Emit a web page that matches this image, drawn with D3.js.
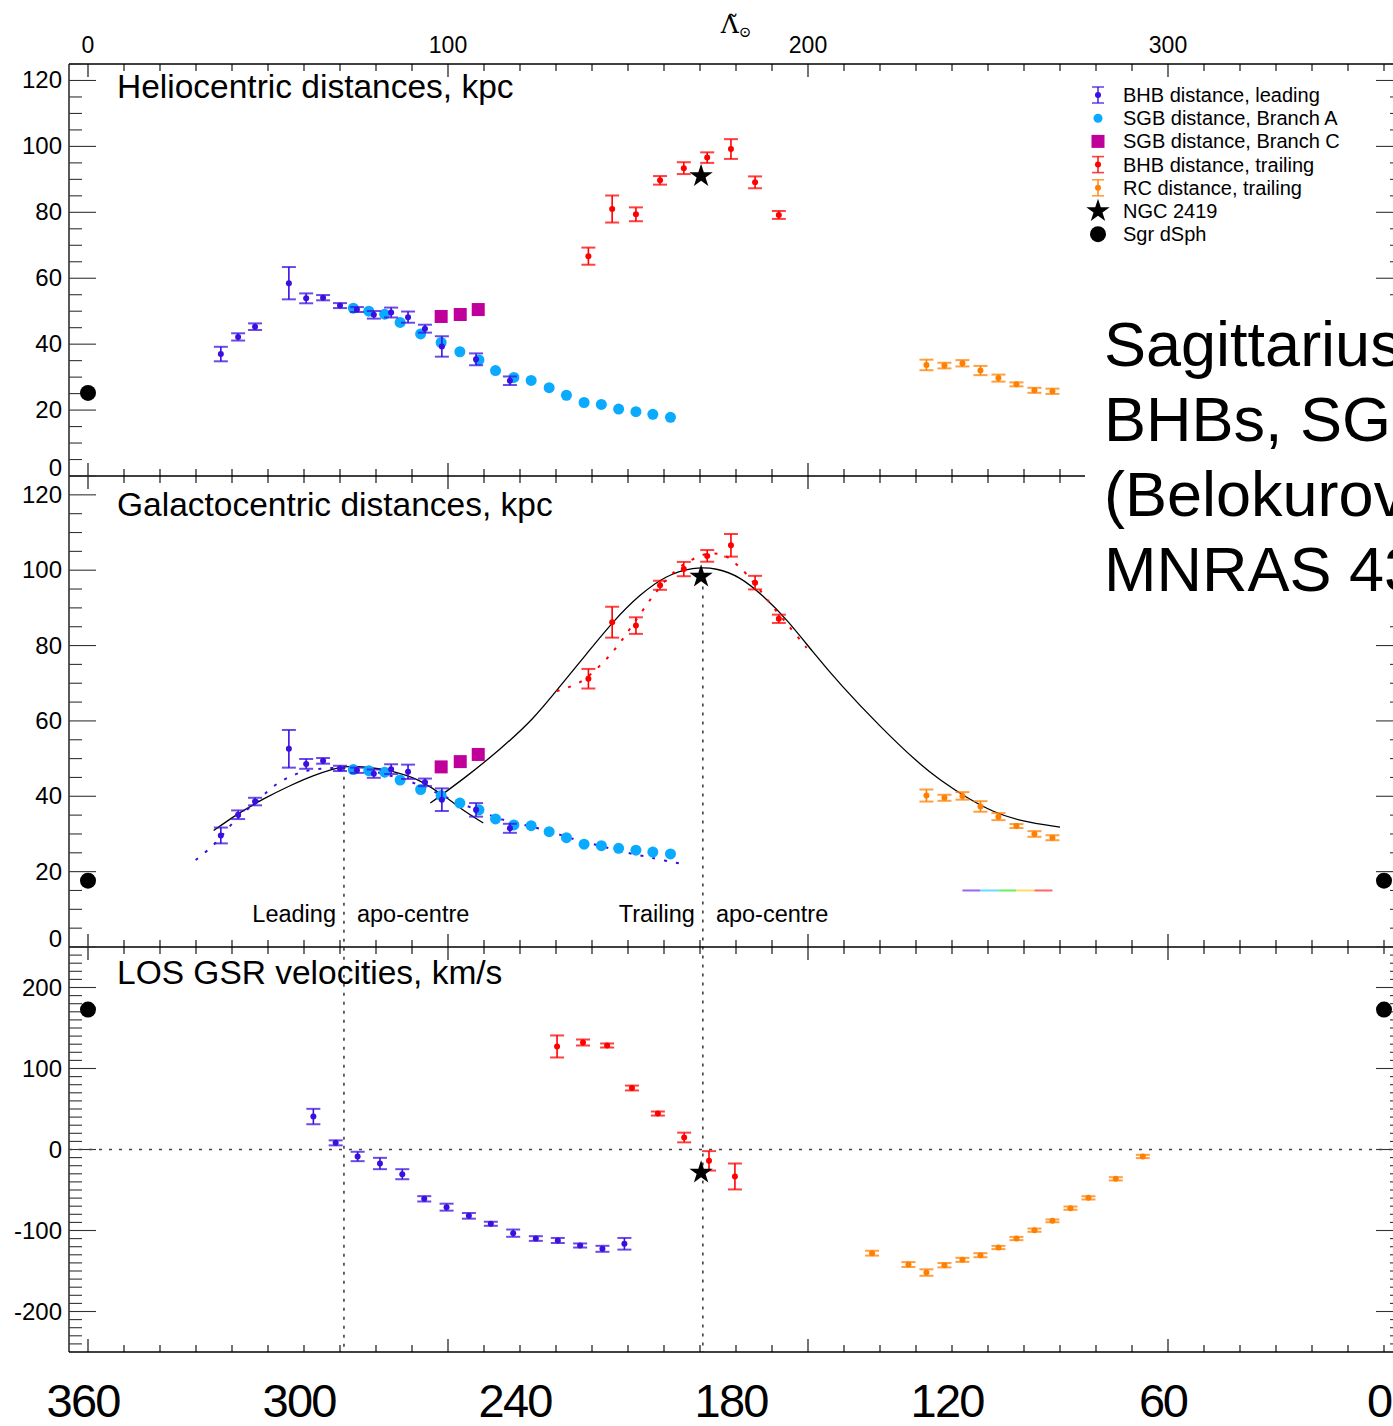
<!DOCTYPE html>
<html lang="en">
  <head>
    <meta charset="UTF-8" />
    <title>Sagittarius stream</title>
    <script src="https://cdn.jsdelivr.net/npm/d3@7"></script>
    <style>
      body { margin: 0; overflow: hidden; background: #fff; }
      svg { display: block; font-family: "Liberation Sans", Arial, sans-serif; }
    </style>
  </head>
  <body>
    <svg width="1393" height="1426"></svg>
    <script>
      // ---- data (longitude in deg) ----
      // BHB leading
      const bhbLeadLam = [36.9, 41.7, 46.4, 55.8, 60.6, 65.3, 70.0, 74.7, 79.4, 84.2, 88.9, 93.6, 98.3, 107.8, 117.2];
      const bhbLeadDh = [37.0, 42.2, 45.3, 58.5, 53.9, 54.1, 51.7, 50.5, 48.9, 49.6, 48.2, 44.7, 39.3, 35.4, 28.9];
      const bhbLeadDhErr = [2.2, 1.1, 1.0, 4.9, 1.5, 0.8, 0.75, 0.75, 1.15, 1.5, 1.7, 1.2, 3.1, 1.8, 1.3];
      const bhbLeadRg = [29.6, 35.1, 38.6, 52.6, 48.6, 49.4, 47.4, 46.9, 46.0, 47.2, 46.5, 43.7, 39.1, 36.4, 31.5];
      const bhbLeadRgErr = [2.1, 1.15, 1.0, 5.0, 1.3, 0.75, 0.7, 0.7, 1.1, 1.3, 1.9, 1.0, 3.0, 1.8, 1.2];
      const vLeadLam = [62.6, 68.8, 74.9, 81.1, 87.3, 93.4, 99.6, 105.8, 111.9, 118.1, 124.4, 130.5, 136.7, 142.9, 149.0];
      const vLead = [40.7, 8.2, -8.6, -17.3, -30.5, -60.9, -71.2, -81.9, -91.7, -103.3, -109.9, -112.3, -118.5, -122.6, -116.4];
      const vLeadErr = [9.5, 3.1, 5.8, 7.0, 6.2, 3.3, 4.3, 3.5, 2.5, 4.5, 2.9, 3.1, 2.5, 3.7, 7.2];

      // SGB branch A and C
      const sgbALam = [73.7, 78.0, 82.4, 86.7, 92.4, 98.1, 103.3, 108.6, 113.2, 118.3, 123.1, 128.1, 132.9, 137.8, 142.6, 147.4, 152.2, 156.9, 161.8];
      const sgbADh = [50.9, 50.0, 49.1, 46.6, 43.1, 40.5, 37.7, 35.2, 32.0, 29.9, 29.0, 26.8, 24.5, 22.3, 21.7, 20.3, 19.5, 18.7, 17.8];
      const sgbARg = [47.1, 46.8, 46.4, 44.3, 41.8, 40.2, 38.2, 36.4, 34.0, 32.4, 32.2, 30.6, 29.0, 27.3, 26.9, 26.2, 25.7, 25.2, 24.7];
      const sgbCLam = [98.1, 103.4, 108.4];
      const sgbCDh = [48.4, 49.0, 50.5];
      const sgbCRg = [47.8, 49.2, 51.1];

      // BHB trailing
      const bhbTrailLam = [139.0, 145.6, 152.2, 158.9, 165.5, 172.0, 178.6, 185.3, 191.9];
      const bhbTrailDh = [66.7, 81.0, 79.4, 89.7, 93.4, 96.6, 99.2, 89.1, 79.2];
      const bhbTrailDhErr = [2.6, 4.1, 2.1, 1.3, 1.8, 1.6, 3.0, 1.8, 1.2];
      const bhbTrailRg = [71.2, 86.2, 85.3, 96.0, 100.3, 103.8, 106.6, 96.7, 87.1];
      const bhbTrailRgErr = [2.6, 4.1, 2.2, 1.2, 1.9, 1.55, 3.0, 1.8, 1.1];
      const vTrailLam = [130.3, 137.5, 144.2, 151.1, 158.3, 165.6, 172.5, 179.7];
      const vTrail = [127.2, 132.1, 128.4, 75.9, 44.4, 14.8, -14.0, -33.3];
      const vTrailErr = [13.6, 3.7, 2.5, 3.0, 2.5, 6.0, 12.0, 16.0];

      // RC trailing
      const rcLam = [232.9, 237.9, 242.9, 247.9, 252.9, 257.9, 262.9, 267.9];
      const rcDh = [33.7, 33.5, 34.2, 32.0, 29.7, 27.8, 26.0, 25.7];
      const rcDhErr = [1.6, 0.86, 0.96, 1.4, 1.06, 0.6, 0.76, 0.8];
      const rcRg = [40.2, 39.6, 40.1, 37.3, 34.6, 32.1, 30.0, 29.0];
      const rcRgErr = [1.6, 0.8, 1.0, 1.4, 0.93, 0.53, 0.75, 0.66];
      const vRcLam = [217.8, 227.9, 232.9, 237.9, 242.9, 247.9, 252.9, 257.9, 262.9, 267.9, 272.9, 277.9, 285.5, 293.0];
      const vRc = [-128.0, -142.0, -151.9, -142.8, -136.2, -130.5, -121.0, -109.9, -99.6, -88.1, -72.4, -59.7, -36.2, -8.6];
      const vRcErr = [3, 3, 4, 2.7, 2.5, 2.5, 2, 2, 2, 1.7, 2, 2, 2, 2];

      // NGC 2419 and Sgr dSph
      const ngcLam = 170.3, ngcDh = 91.0, ngcRg = 98.3, ngcV = -28.4;
      const sgrLam = [0, 360], sgrDh = 25.2, sgrRg = 17.6, sgrV = 172.8;

      // model curves (galactocentric panel)
      const modelLeadLam = [34.9, 41.8, 48.8, 55.7, 62.7, 71.1, 77.5, 84.5, 91.4, 98.4, 104.3, 109.8];
      const modelLeadRg = [30.9, 35.4, 39.3, 42.6, 45.5, 47.8, 47.7, 46.6, 44.4, 40.4, 36.3, 32.9];
      const modelTrailLam = [95.1, 105.3, 114.3, 123.7, 131.1, 138.5, 145.9, 153.3, 160.7, 168.1, 174.6, 181.1, 187.6, 194.1, 201.5, 208.9, 220.0, 230.6, 236.7, 244.1, 251.5, 258.9, 270.0];
      const modelTrailRg = [38.2, 45.3, 52.3, 60.4, 69.2, 77.8, 86.5, 93.6, 98.7, 100.8, 100.6, 98.3, 93.2, 87.0, 78.1, 69.7, 58.5, 48.8, 44.3, 39.6, 35.8, 33.4, 31.8];
      const dotLeadLam = [29.9, 34.9, 40.8, 46.8, 52.7, 58.7, 64.6, 70.6, 76.6, 83.5, 89.4, 95.4, 102.3, 109.3, 115.2, 121.2, 128.1, 135.1, 142.0, 149.0, 156.9, 164.8];
      const dotLeadRg = [23.1, 27.1, 33.5, 38.6, 43.4, 46.2, 47.3, 47.5, 47.1, 45.6, 43.9, 41.5, 38.6, 35.9, 33.8, 32.4, 30.7, 28.6, 26.9, 25.2, 23.6, 22.1];
      const dotTrailLam = [130.2, 136.7, 143.1, 147.8, 152.4, 157.0, 161.7, 166.3, 171.9, 176.5, 181.1, 185.7, 190.4, 195.0, 199.6];
      const dotTrailRg = [67.9, 70.3, 75.5, 80.8, 87.0, 93.2, 98.5, 102.0, 104.3, 104.0, 100.7, 95.8, 90.1, 84.8, 79.4];

      const apoLam = [71.1, 170.8];
      const apoTopRg = [47.6, 95.7];
      const rainbowLam = [242.9, 247.9, 252.9, 257.9, 262.9, 267.9];
      const rainbowRg = 15.0;
      const rainbowColors = ["#9966ee", "#66ddff", "#66ee66", "#ffdd66", "#ff6666"];

      const helioTicks = [0, 20, 40, 60, 80, 100, 120];
      const velTicks = [-200, -100, 0, 100, 200];
      const lamMajor = [0, 100, 200, 300];
      const bottomLabels = [0, 60, 120, 180, 240, 300, 360];

      const cLead = "#3a0fe0", cSgbA = "#0aaaff", cSgbC = "#c0009a", cTrail = "#ff0000", cRc = "#ff7f00";

      // ---- scales ----
      const x = d3.scaleLinear().domain([0, 360]).range([88, 1384]);
      const xL = 69, xR = 1403;
      const yHelio = d3.scaleLinear().domain([0, 125]).range([476, 64]);
      const yGalac = d3.scaleLinear().domain([0, 125]).range([947, 476]);
      const yVel = d3.scaleLinear().domain([-250, 250]).range([1352, 947]);

      const svg = d3.select("svg");
      const zip = (a, b) => a.map((v, i) => [v, b[i]]);

      // frame lines
      const frame = svg.append("g").attr("stroke", "#000").attr("stroke-width", 1.3);
      [64, 476, 947, 1352].forEach(yy => frame.append("line").attr("x1", xL).attr("x2", xR).attr("y1", yy).attr("y2", yy));
      frame.append("line").attr("x1", xL).attr("x2", xL).attr("y1", 64).attr("y2", 1352);
      frame.append("line").attr("x1", xR).attr("x2", xR).attr("y1", 64).attr("y2", 1352);

      // x ticks on every panel border
      const minorLam = d3.range(0, 361, 10);
      function xTicks(yy, dir) {
        const g = svg.append("g").attr("stroke", "#000").attr("stroke-width", 1.1);
        minorLam.forEach(v => {
          const len = v % 100 === 0 ? 13 : 7;
          g.append("line").attr("x1", x(v)).attr("x2", x(v)).attr("y1", yy).attr("y2", yy + dir * len);
        });
      }
      xTicks(64, 1); xTicks(476, -1); xTicks(476, 1); xTicks(947, -1); xTicks(947, 1); xTicks(1352, -1);

      // top tick labels
      svg.append("g").selectAll("text").data(lamMajor).join("text")
        .attr("x", d => x(d)).attr("y", 53).attr("text-anchor", "middle")
        .attr("font-size", 23).text(d => d);
      const ttl = svg.append("text").attr("x", 736).attr("y", 33).attr("text-anchor", "middle").attr("font-size", 25)
        .attr("font-family", "DejaVu Serif, serif");
      ttl.append("tspan").text("\u039B\u0303");
      ttl.append("tspan").attr("font-size", 15).attr("dy", 4).text("\u2299");

      // bottom labels (360 - longitude)
      svg.append("g").selectAll("text").data(bottomLabels).join("text")
        .attr("x", d => x(d) - 4).attr("y", 1417).attr("text-anchor", "middle")
        .attr("font-size", 47).attr("textLength", d => String(360 - d).length * 25)
        .text(d => 360 - d);

      // y axes
      function yAxis(scale, major, step, lo, hi, shiftZero) {
        const minor = d3.range(lo, hi + 0.01, step).filter(v => !major.includes(v));
        const g = svg.append("g").attr("stroke", "#333").attr("stroke-width", 1.1);
        major.forEach(v => {
          g.append("line").attr("x1", xL).attr("x2", xL + 27).attr("y1", scale(v)).attr("y2", scale(v));
          g.append("line").attr("x1", xR).attr("x2", xR - 27).attr("y1", scale(v)).attr("y2", scale(v));
        });
        minor.forEach(v => {
          g.append("line").attr("x1", xL).attr("x2", xL + 13).attr("y1", scale(v)).attr("y2", scale(v));
          g.append("line").attr("x1", xR).attr("x2", xR - 13).attr("y1", scale(v)).attr("y2", scale(v));
        });
        svg.append("g").selectAll("text").data(major).join("text")
          .attr("x", 62).attr("y", d => scale(d) + 8 - (shiftZero && d === 0 ? 8 : 0))
          .attr("text-anchor", "end").attr("font-size", 24).text(d => d);
      }
      yAxis(yHelio, helioTicks, 5, 0, 125, true);
      yAxis(yGalac, helioTicks, 5, 0, 125, true);
      yAxis(yVel, velTicks, 10, -240, 240, false);

      // panel titles
      [["Heliocentric distances, kpc", 98], ["Galactocentric distances, kpc", 516], ["LOS GSR velocities, km/s", 984]]
        .forEach(([t, yy]) => svg.append("text").attr("x", 117).attr("y", yy).attr("font-size", 33.5).text(t));

      // zero velocity line and apo-centre lines
      svg.append("line").attr("x1", xL).attr("x2", xR).attr("y1", yVel(0)).attr("y2", yVel(0))
        .attr("stroke", "#444").attr("stroke-width", 1.4).attr("stroke-dasharray", "3,7");
      apoLam.forEach((l, i) => {
        svg.append("line").attr("x1", x(l)).attr("x2", x(l)).attr("y1", yGalac(apoTopRg[i])).attr("y2", 1352)
          .attr("stroke", "#000").attr("stroke-width", 1.2).attr("stroke-dasharray", "3,6");
        svg.append("text").attr("x", x(l) - 8).attr("y", 922).attr("text-anchor", "end").attr("font-size", 23.5)
          .text(i === 0 ? "Leading" : "Trailing");
        svg.append("text").attr("x", x(l) + 13).attr("y", 922).attr("font-size", 23.5).text("apo-centre");
      });

      // model lines
      const line = (sy, curve) => d3.line().x(d => x(d[0])).y(d => sy(d[1])).curve(curve);
      svg.append("path").datum(zip(modelLeadLam, modelLeadRg)).attr("d", line(yGalac, d3.curveCatmullRom))
        .attr("fill", "none").attr("stroke", "#000").attr("stroke-width", 1.3);
      svg.append("path").datum(zip(modelTrailLam, modelTrailRg)).attr("d", line(yGalac, d3.curveBasis))
        .attr("fill", "none").attr("stroke", "#000").attr("stroke-width", 1.3);
      svg.append("path").datum(zip(dotLeadLam, dotLeadRg)).attr("d", line(yGalac, d3.curveCatmullRom))
        .attr("fill", "none").attr("stroke", cLead).attr("stroke-width", 2).attr("stroke-dasharray", "3,9");
      svg.append("path").datum(zip(dotTrailLam, dotTrailRg)).attr("d", line(yGalac, d3.curveCatmullRom))
        .attr("fill", "none").attr("stroke", cTrail).attr("stroke-width", 2).attr("stroke-dasharray", "3,9");

      // rainbow bar
      rainbowColors.forEach((c, i) => {
        svg.append("line").attr("x1", x(rainbowLam[i])).attr("x2", x(rainbowLam[i + 1]))
          .attr("y1", yGalac(rainbowRg)).attr("y2", yGalac(rainbowRg)).attr("stroke", c).attr("stroke-width", 2);
      });

      // error-bar points
      function errPoints(lam, val, err, sy, color) {
        const g = svg.append("g");
        lam.forEach((l, i) => {
          const px = x(l), y0 = sy(val[i] - err[i]), y1 = sy(val[i] + err[i]);
          g.append("line").attr("x1", px).attr("x2", px).attr("y1", y0).attr("y2", y1)
            .attr("stroke", color).attr("stroke-width", 1.6);
          [y0, y1].forEach(yy => g.append("line").attr("x1", px - 7).attr("x2", px + 7).attr("y1", yy).attr("y2", yy)
            .attr("stroke", color).attr("stroke-width", 2).attr("stroke-opacity", 0.75));
          g.append("circle").attr("cx", px).attr("cy", sy(val[i])).attr("r", 3).attr("fill", color);
        });
      }
      function dots(lam, val, sy, color) {
        svg.append("g").selectAll("circle").data(zip(lam, val)).join("circle")
          .attr("cx", d => x(d[0])).attr("cy", d => sy(d[1])).attr("r", 5.5).attr("fill", color);
      }
      function squares(lam, val, sy, color) {
        svg.append("g").selectAll("rect").data(zip(lam, val)).join("rect")
          .attr("x", d => x(d[0]) - 6.5).attr("y", d => sy(d[1]) - 6.5).attr("width", 13).attr("height", 13).attr("fill", color);
      }
      const star = d3.symbol().type(d3.symbolStar).size(170);

      // heliocentric panel
      dots(sgbALam, sgbADh, yHelio, cSgbA);
      errPoints(bhbLeadLam, bhbLeadDh, bhbLeadDhErr, yHelio, cLead);
      squares(sgbCLam, sgbCDh, yHelio, cSgbC);
      errPoints(bhbTrailLam, bhbTrailDh, bhbTrailDhErr, yHelio, cTrail);
      errPoints(rcLam, rcDh, rcDhErr, yHelio, cRc);

      // galactocentric panel
      dots(sgbALam, sgbARg, yGalac, cSgbA);
      errPoints(bhbLeadLam, bhbLeadRg, bhbLeadRgErr, yGalac, cLead);
      squares(sgbCLam, sgbCRg, yGalac, cSgbC);
      errPoints(bhbTrailLam, bhbTrailRg, bhbTrailRgErr, yGalac, cTrail);
      errPoints(rcLam, rcRg, rcRgErr, yGalac, cRc);

      // velocity panel
      errPoints(vLeadLam, vLead, vLeadErr, yVel, cLead);
      errPoints(vTrailLam, vTrail, vTrailErr, yVel, cTrail);
      errPoints(vRcLam, vRc, vRcErr, yVel, cRc);

      // NGC 2419 and Sgr dSph
      [[ngcDh, yHelio], [ngcRg, yGalac], [ngcV, yVel]].forEach(([v, sy]) =>
        svg.append("path").attr("d", star).attr("transform", `translate(${x(ngcLam)},${sy(v)})`).attr("fill", "#000"));
      [[sgrDh, yHelio], [sgrRg, yGalac], [sgrV, yVel]].forEach(([v, sy]) =>
        sgrLam.forEach(l => svg.append("circle").attr("cx", x(l)).attr("cy", sy(v)).attr("r", 8).attr("fill", "#000")));

      // legend
      const legend = svg.append("g").attr("transform", "translate(1098,0)");
      const legendRows = [
        ["BHB distance, leading", "err", cLead], ["SGB distance, Branch A", "dot", cSgbA],
        ["SGB distance, Branch C", "sq", cSgbC], ["BHB distance, trailing", "err", cTrail],
        ["RC distance, trailing", "err", cRc], ["NGC 2419", "star", "#000"], ["Sgr dSph", "big", "#000"]
      ];
      legendRows.forEach(([label, kind, c], i) => {
        const yy = 95 + i * 23.2;
        if (kind === "err") {
          legend.append("line").attr("x1", 0).attr("x2", 0).attr("y1", yy - 8).attr("y2", yy + 8).attr("stroke", c).attr("stroke-width", 1.4);
          [yy - 8, yy + 8].forEach(v => legend.append("line").attr("x1", -6).attr("x2", 6).attr("y1", v).attr("y2", v)
            .attr("stroke", c).attr("stroke-width", 1.6).attr("stroke-opacity", 0.75));
          legend.append("circle").attr("cy", yy).attr("r", 3).attr("fill", c);
        } else if (kind === "dot") {
          legend.append("circle").attr("cy", yy).attr("r", 4.5).attr("fill", c);
        } else if (kind === "sq") {
          legend.append("rect").attr("x", -6.5).attr("y", yy - 6.5).attr("width", 13).attr("height", 13).attr("fill", c);
        } else if (kind === "star") {
          legend.append("path").attr("d", star).attr("transform", `translate(0,${yy})`).attr("fill", c);
        } else {
          legend.append("circle").attr("cy", yy).attr("r", 8).attr("fill", c);
        }
        legend.append("text").attr("x", 25).attr("y", yy + 7).attr("font-size", 20).text(label);
      });

      // big caption with white backing
      svg.append("rect").attr("x", 1085).attr("y", 300).attr("width", 330).attr("height", 314).attr("fill", "#fff");
      ["Sagittarius", "BHBs, SGB, RC", "(Belokurov et al. 2014,", "MNRAS 437, 116)"].forEach((t, i) =>
        svg.append("text").attr("x", 1104).attr("y", 366 + i * 75).attr("font-size", 63).text(t));
    </script>
  </body>
</html>
